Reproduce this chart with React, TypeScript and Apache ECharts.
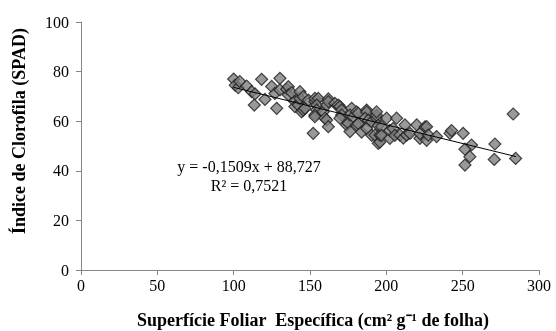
import React, { useEffect, useRef } from "react";
import * as echarts from "echarts";

// Specific leaf area (cm² g⁻¹) for each sampled leaf
const sfe: number[] = [
  100, 101, 103, 104, 108.5, 111.8, 114, 113.5, 118.3, 120.5, 124.9, 127, 128.2,
  130.3, 130.3, 134.7, 135.8, 135.8, 138, 140.1, 140.1, 142.3, 143.4, 143.4, 144.5,
  145.6, 145.6, 146.7, 148.9, 153.2, 153.2, 155.4, 154.4, 154.4, 153.2, 153.2, 152.1,
  158.7, 159.8, 160.9, 160.9, 162, 162, 162, 166.3, 168.5, 169.6, 170.7, 170.7, 169.6,
  174, 175, 176.2, 177.3, 176.2, 178.3, 180.5, 181.6, 180.5, 181.6, 183.8, 187.1,
  187.1, 186, 188.2, 187.1, 190.4, 190.4, 192.5, 193.6, 193.6, 193.6, 194.7, 194.7,
  195.8, 195.8, 196.9, 196.9, 200.2, 202.3, 202.3, 204.5, 205.6, 206.7, 208.9, 211.1,
  212.2, 213.3, 215.5, 219.9, 222, 222, 225.3, 226.4, 226.4, 227.5, 232.9, 241.7,
  242.7, 250.3, 255.8, 251.5, 254.7, 251.5, 271.1, 270.7, 283.1, 284.7,
];

// SPAD chlorophyll index for the same leaves
const spad: number[] = [
  77, 74.5, 73.5, 76, 74.2, 71.9, 71, 66.5, 76.9, 68.8, 74, 71.2, 65.2,
  77.3, 72.6, 72.9, 73.9, 70.6, 71.5, 67.9, 65.9, 66.5, 69.2, 71.9, 63.8,
  64.5, 69.9, 65.2, 68.5, 67.9, 69.2, 69.2, 66.5, 64.5, 62.5, 61.8, 55.1,
  63.8, 61.2, 66.5, 60.5, 69, 67.9, 57.8, 67.2, 66.5, 65.9, 64.5, 62.5, 61.2,
  58.5, 59.2, 55.8, 65.2, 62.5, 61.8, 63.8, 63.2, 58.5, 59, 55.6, 64.5,
  63.7, 61.2, 60.4, 57.1, 59.8, 54.3, 54.4, 61.2, 62.4, 63.8, 58.3, 51.1,
  51.6, 54.4, 57.8, 54.3, 61.2, 53.1, 56.3, 57.1, 54.3, 61.2, 54.4, 53.2,
  58.5, 54.4, 55.1, 58.5, 53.1, 55, 57.7, 57.8, 52.3, 54.4, 53.8, 55.1,
  56.2, 55.1, 50.4, 48.7, 45.7, 42.3, 50.8, 44.6, 62.9, 45,
];

// Linear fit reported for the data set
const slope = -0.1509;
const intercept = 88.727;
const r2 = 0.7521;
const fitRange: number[] = [100, 285];

const xTicks = { min: 0, max: 300, interval: 50 };
const yTicks = { min: 0, max: 100, interval: 20 };

const fmt = (v: number, d: number) => v.toFixed(d).replace(".", ",");

export default function App() {
  const ref = useRef<HTMLDivElement>(null);

  useEffect(() => {
    if (!ref.current) return;
    const chart = echarts.init(ref.current, undefined, { renderer: "svg" });
    const font = "Liberation Serif";
    const axisGray = "#868686";

    const points = sfe.map((x, i) => [x, spad[i]]);
    const fitLine = fitRange.map((x) => [x, slope * x + intercept]);

    chart.setOption({
      animation: false,
      textStyle: { fontFamily: font },
      grid: { left: 81, right: 17, top: 22, bottom: 61, containLabel: false },
      xAxis: {
        type: "value",
        min: xTicks.min,
        max: xTicks.max,
        interval: xTicks.interval,
        splitLine: { show: false },
        axisLine: { lineStyle: { color: axisGray, width: 1 } },
        axisTick: { show: true, length: 5, lineStyle: { color: axisGray } },
        axisLabel: { color: "#000", fontSize: 16, fontFamily: font, margin: 7 },
      },
      yAxis: {
        type: "value",
        min: yTicks.min,
        max: yTicks.max,
        interval: yTicks.interval,
        splitLine: { show: false },
        axisLine: { show: true, lineStyle: { color: axisGray, width: 1 } },
        axisTick: { show: true, length: 5, lineStyle: { color: axisGray } },
        axisLabel: { color: "#000", fontSize: 16, fontFamily: font, margin: 12 },
      },
      graphic: [
        {
          type: "text",
          x: 19,
          y: 131,
          rotation: Math.PI / 2,
          style: {
            text: "Índice de Clorofila (SPAD)",
            fontFamily: font,
            fontWeight: "bold",
            fontSize: 18,
            fill: "#000",
            textAlign: "center",
            textVerticalAlign: "middle",
          },
        },
        {
          type: "text",
          x: 313,
          y: 320,
          style: {
            text: "Superfície Foliar  Específica (cm² g⁻¹ de folha)",
            fontFamily: font,
            fontWeight: "bold",
            fontSize: 18,
            fill: "#000",
            textAlign: "center",
            textVerticalAlign: "middle",
          },
        },
        {
          type: "text",
          x: 249,
          y: 166,
          style: {
            text: `y = ${fmt(slope, 4)}x + ${fmt(intercept, 3)}`,
            fontFamily: font,
            fontSize: 16,
            fill: "#000",
            textAlign: "center",
            textVerticalAlign: "middle",
          },
        },
        {
          type: "text",
          x: 249,
          y: 185,
          style: {
            text: `R² = ${fmt(r2, 4)}`,
            fontFamily: font,
            fontSize: 16,
            fill: "#000",
            textAlign: "center",
            textVerticalAlign: "middle",
          },
        },
      ],
      series: [
        {
          type: "scatter",
          data: points,
          symbol: "rect",
          symbolSize: 8.5,
          symbolRotate: 45,
          itemStyle: { color: "#7f7f7f", borderColor: "#1e1e1e", borderWidth: 1.2 },
          z: 2,
        },
        {
          type: "line",
          data: fitLine,
          symbol: "none",
          lineStyle: { color: "#000", width: 1 },
          z: 3,
        },
      ],
    });

    return () => chart.dispose();
  }, []);

  return (
    <div
      ref={ref}
      style={{ position: "fixed", left: 0, top: 0, width: 556, height: 331 }}
    />
  );
}
